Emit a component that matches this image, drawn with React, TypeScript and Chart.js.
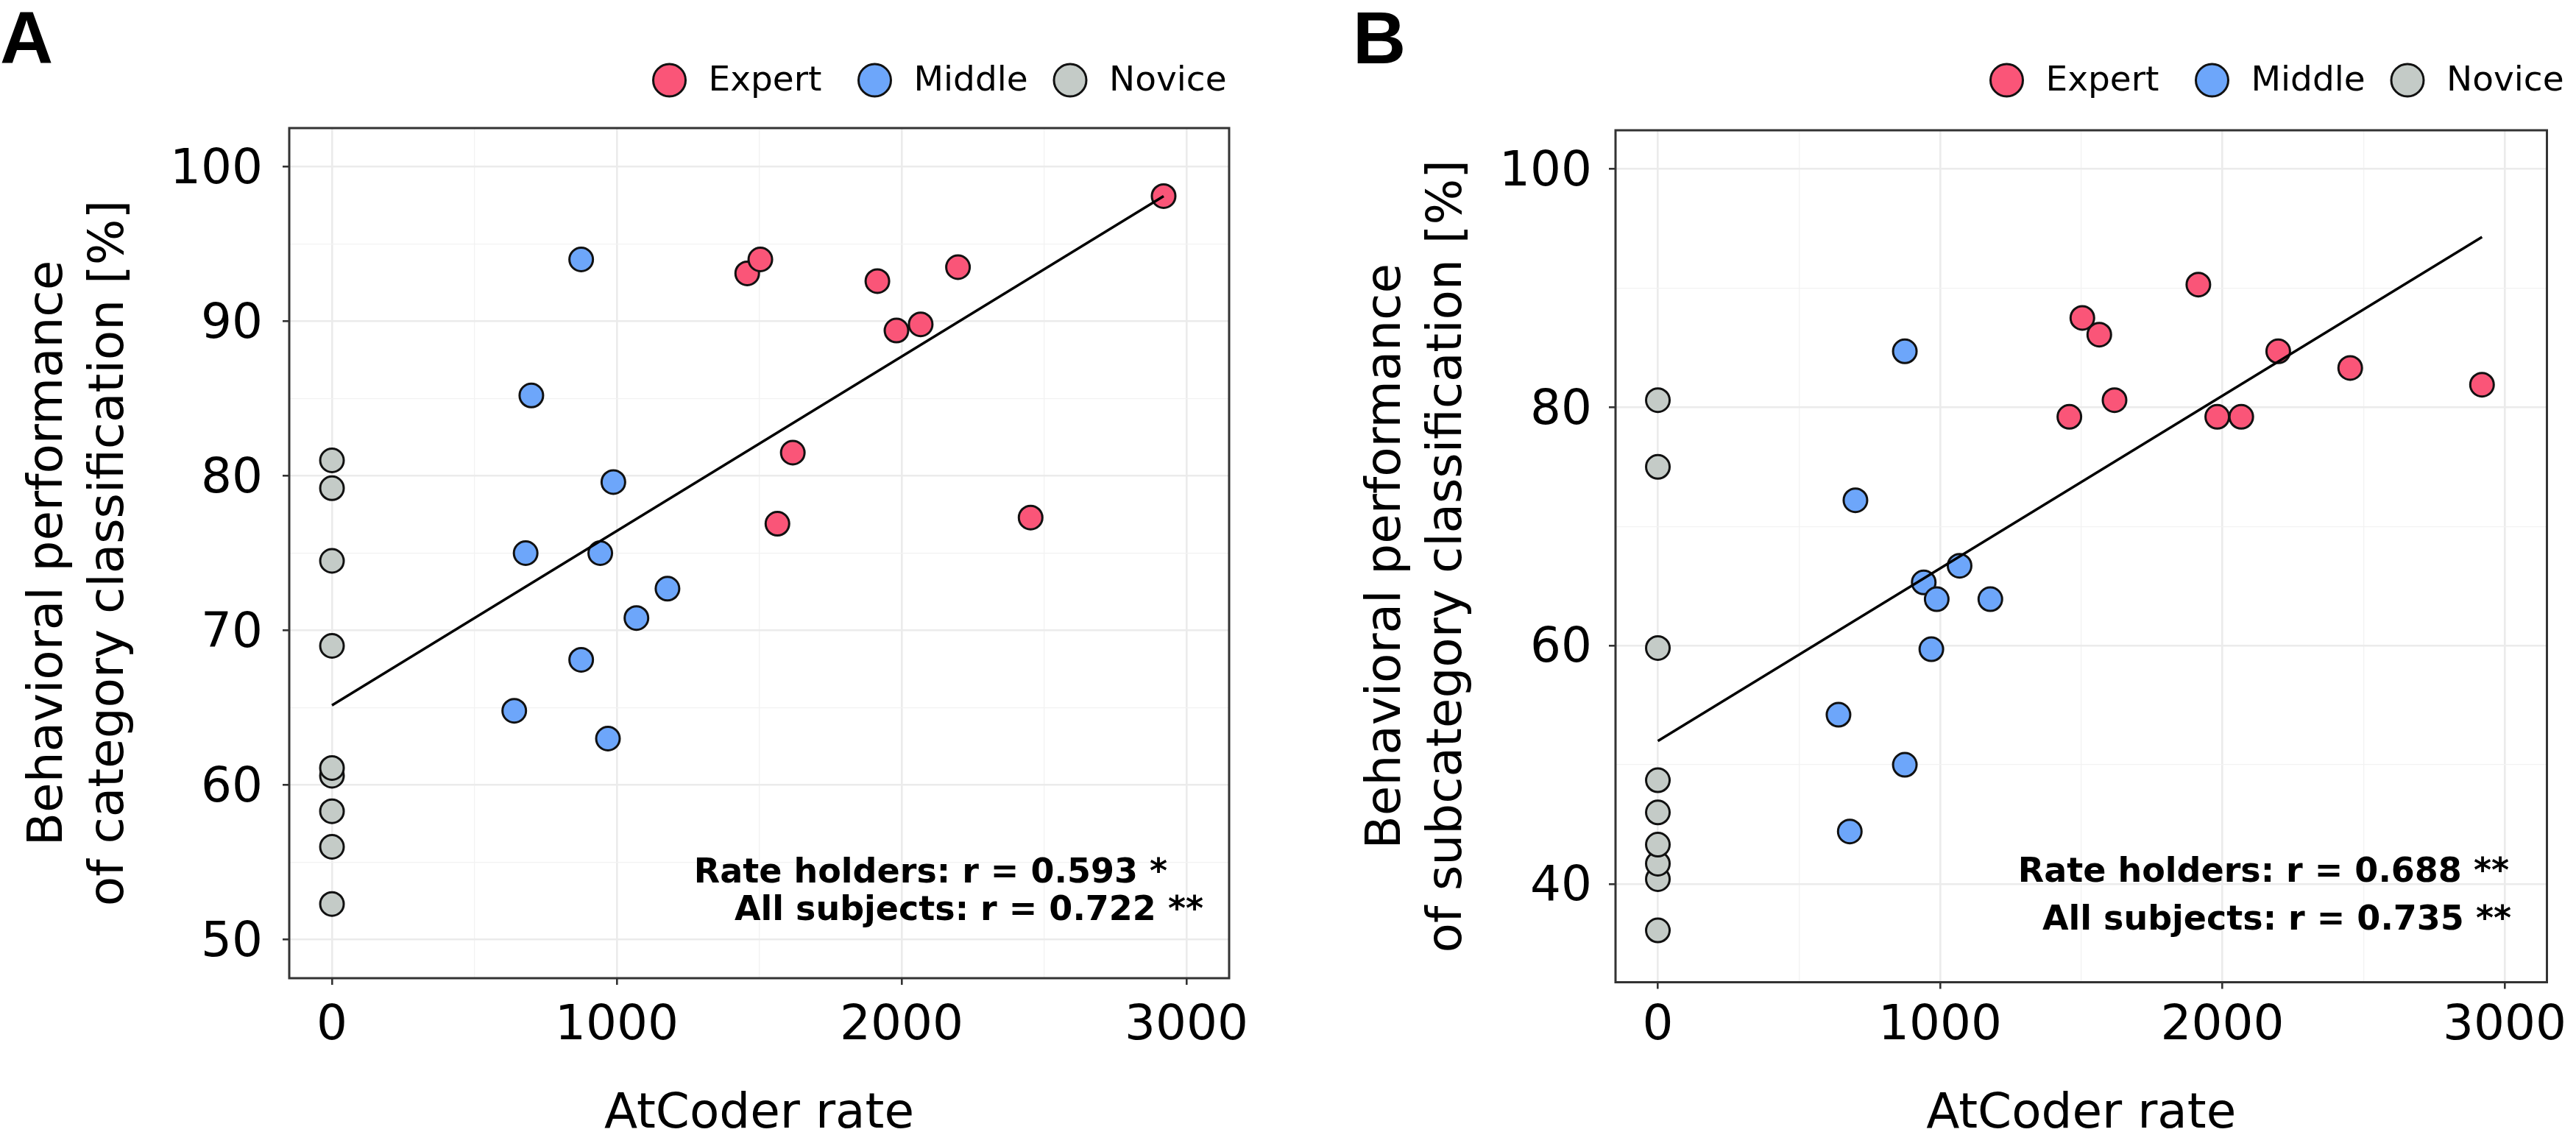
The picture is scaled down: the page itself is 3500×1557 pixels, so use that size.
import React, { useEffect, useRef } from 'react';
import { Chart, registerables } from 'chart.js';

Chart.register(...registerables);

// ---------- data ----------
const GROUPS = ['Expert', 'Middle', 'Novice'];
const GROUP_COLORS = ['#FA5578', '#6DA6FA', '#C4CBC7'];

const expertRate = [1458, 1504, 1564, 1618, 1915, 1982, 2067, 2198, 2453, 2920];
const expertCat = [93.1, 94.0, 76.9, 81.5, 92.6, 89.4, 89.8, 93.5, 77.3, 98.1];
const expertSub = [79.2, 87.5, 86.1, 80.6, 90.3, 79.2, 79.2, 84.7, 83.3, 81.9];

const middleRate = [640, 680, 700, 875, 875, 942, 969, 988, 1069, 1178];
const middleCat = [64.8, 75.0, 85.2, 94.0, 68.1, 75.0, 63.0, 79.6, 70.8, 72.7];
const middleSub = [54.2, 44.4, 72.2, 84.7, 50.0, 65.3, 59.7, 63.9, 66.7, 63.9];

const noviceRate = [0, 0, 0, 0, 0, 0, 0, 0, 0];
const noviceCat = [52.3, 56.0, 58.3, 60.6, 61.1, 69.0, 74.5, 79.2, 81.0];
const noviceSub = [36.1, 40.4, 41.7, 43.3, 46.0, 48.7, 59.8, 75.0, 80.6];

const fitRate = [0, 2920];
const fitCat = [65.15, 98.1];
const fitSub = [52.0, 94.3];

const xTicksMajor = [0, 1000, 2000, 3000];
const xTicksMinor = [500, 1500, 2500];
const yTicksMajorA = [50, 60, 70, 80, 90, 100];
const yTicksMinorA = [55, 65, 75, 85, 95];
const yTicksMajorB = [40, 60, 80, 100];
const yTicksMinorB = [50, 70, 90];

const statsA = ['Rate holders: r = 0.593 *', 'All subjects: r = 0.722 **'];
const statsB = ['Rate holders: r = 0.688 **', 'All subjects: r = 0.735 **'];

const yTitleA = ['Behavioral performance', 'of category classification [%]'];
const yTitleB = ['Behavioral performance', 'of subcategory classification [%]'];
const xTitle = 'AtCoder rate';

// ---------- layout per panel ----------
const panelA = {
  letter: 'A', letterX: 0, letterY: 86,
  yTitle: yTitleA,
  series: [expertCat, middleCat, noviceCat],
  fit: fitCat,
  yMin: 47.5, yMax: 102.5, yMajor: yTicksMajorA, yMinor: yTicksMinorA,
  padTop: 174, padRight: 80, yWidth: 393, xHeight: 228,
  yTickPad: 27, xTickPad: 17.6, yTitlePad: 26,
  legendCenters: [909.5, 1188.5, 1454],
  stats: statsA, statsRight: [1586, 1635], statsBaseline: [1199, 1250],
};

const panelB = {
  letter: 'B', letterX: 88, letterY: 86,
  yTitle: yTitleB,
  series: [expertSub, middleSub, noviceSub],
  fit: fitSub,
  yMin: 31.75, yMax: 103.25, yMajor: yTicksMajorB, yMinor: yTicksMinorB,
  padTop: 177, padRight: 23, yWidth: 445, xHeight: 222.5,
  yTickPad: 23, xTickPad: 12, yTitlePad: 94,
  legendCenters: [976.5, 1255.5, 1521],
  stats: statsB, statsRight: [1659, 1662], statsBaseline: [1198, 1263],
};

const FONT = "'DejaVu Sans', sans-serif";
const RATES = [expertRate, middleRate, noviceRate];

const decorPlugin = {
  id: 'panelDecor',
  afterDatasetsDraw(chart: any, _args: any, opts: any) {
    const { ctx, chartArea } = chart;
    const { left, top, right, bottom } = chartArea;
    ctx.save();
    ctx.strokeStyle = '#333333';
    ctx.lineWidth = 3;
    ctx.strokeRect(left, top, right - left, bottom - top);
    ctx.restore();
  },
  afterDraw(chart: any, _args: any, opts: any) {
    const ctx = chart.ctx;
    ctx.save();
    // panel letter
    ctx.fillStyle = '#000';
    ctx.textAlign = 'left';
    ctx.textBaseline = 'alphabetic';
    ctx.font = "bold 100px 'Liberation Sans', Arial, sans-serif";
    ctx.fillText(opts.letter, opts.letterX, opts.letterY);

    // legend
    let k = 0;
    chart.data.datasets.forEach((ds: any) => {
      if (!GROUPS.includes(ds.label)) return;
      const cx = opts.legendCenters[k];
      k++;
      ctx.beginPath();
      ctx.arc(cx, 109, 22, 0, Math.PI * 2);
      ctx.fillStyle = ds.backgroundColor;
      ctx.fill();
      ctx.lineWidth = 3;
      ctx.strokeStyle = '#111';
      ctx.stroke();
      ctx.fillStyle = '#000';
      ctx.font = `47px ${FONT}`;
      ctx.textAlign = 'left';
      ctx.textBaseline = 'alphabetic';
      ctx.fillText(ds.label, cx + 53, 123);
    });

    // correlation annotation
    ctx.font = `bold 46px ${FONT}`;
    ctx.textAlign = 'right';
    ctx.textBaseline = 'alphabetic';
    ctx.fillStyle = '#000';
    opts.stats.forEach((s: string, i: number) => {
      ctx.fillText(s, opts.statsRight[i], opts.statsBaseline[i]);
    });
    ctx.restore();
  },
};

function Panel({ cfg, left }: { cfg: any; left: number }) {
  const ref = useRef<HTMLCanvasElement>(null);
  useEffect(() => {
    if (!ref.current) return;
    const xAll = [...xTicksMajor, ...xTicksMinor].sort((a, b) => a - b);
    const yAll = [...cfg.yMajor, ...cfg.yMinor].sort((a: number, b: number) => a - b);
    const isXMajor = (v: any) => xTicksMajor.includes(v);
    const isYMajor = (v: any) => cfg.yMajor.includes(v);

    const datasets: any[] = [
      {
        type: 'line',
        label: '',
        data: fitRate.map((x, i) => ({ x, y: cfg.fit[i] })),
        borderColor: '#000',
        borderWidth: 3.5,
        pointRadius: 0,
        fill: false,
        order: 0,
      },
    ];
    GROUPS.forEach((g, gi) => {
      datasets.push({
        type: 'scatter',
        label: g,
        data: RATES[gi].map((x, i) => ({ x, y: cfg.series[gi][i] })),
        backgroundColor: GROUP_COLORS[gi],
        borderColor: '#111',
        borderWidth: 3,
        pointRadius: 16,
        pointHoverRadius: 16,
        order: gi + 1,
      });
    });

    const chart = new Chart(ref.current, {
      type: 'scatter',
      data: { datasets },
      plugins: [decorPlugin],
      options: {
        responsive: false,
        animation: false,
        events: [],
        layout: { padding: { left: 0, right: cfg.padRight, top: cfg.padTop, bottom: 0 } },
        plugins: {
          legend: { display: false },
          tooltip: { enabled: false },
          panelDecor: cfg,
        } as any,
        scales: {
          x: {
            type: 'linear',
            min: -150,
            max: 3150,
            afterBuildTicks: (s: any) => {
              s.ticks = xAll.map((v) => ({ value: v }));
            },
            afterFit: (s: any) => {
              s.height = cfg.xHeight;
            },
            border: { display: false },
            grid: {
              color: (c: any) => (isXMajor(c.tick?.value) ? '#EBEBEB' : '#F2F2F2'),
              lineWidth: (c: any) => (isXMajor(c.tick?.value) ? 2.6 : 1.3),
              tickColor: (c: any) => (isXMajor(c.tick?.value) ? '#333333' : 'rgba(0,0,0,0)'),
              tickLength: 9,
              tickWidth: 2.6,
              drawTicks: true,
            },
            ticks: {
              autoSkip: false,
              maxRotation: 0,
              minRotation: 0,
              padding: cfg.xTickPad,
              color: '#000',
              font: { family: FONT, size: 66, lineHeight: 1.2 },
              callback: (v: any) => (isXMajor(v) ? String(v) : ''),
            },
            title: {
              display: true,
              text: xTitle,
              color: '#000',
              font: { family: FONT, size: 66, lineHeight: 1.2 },
              padding: { top: 0, bottom: 3 },
            },
          },
          y: {
            type: 'linear',
            min: cfg.yMin,
            max: cfg.yMax,
            afterBuildTicks: (s: any) => {
              s.ticks = yAll.map((v: number) => ({ value: v }));
            },
            afterFit: (s: any) => {
              s.width = cfg.yWidth;
            },
            border: { display: false },
            grid: {
              color: (c: any) => (isYMajor(c.tick?.value) ? '#EBEBEB' : '#F2F2F2'),
              lineWidth: (c: any) => (isYMajor(c.tick?.value) ? 2.6 : 1.3),
              tickColor: (c: any) => (isYMajor(c.tick?.value) ? '#333333' : 'rgba(0,0,0,0)'),
              tickLength: 9,
              tickWidth: 2.6,
              drawTicks: true,
            },
            ticks: {
              autoSkip: false,
              padding: cfg.yTickPad,
              labelOffset: 5,
              color: '#000',
              font: { family: FONT, size: 66, lineHeight: 1.2 },
              callback: (v: any) => (isYMajor(v) ? String(v) : ''),
            },
            title: {
              display: true,
              text: cfg.yTitle,
              color: '#000',
              font: { family: FONT, size: 66, lineHeight: 1.25 },
              padding: { top: cfg.yTitlePad, bottom: 0 },
            },
          },
        },
      } as any,
    });
    return () => chart.destroy();
  }, []);
  return (
    <canvas
      ref={ref}
      width={1750}
      height={1557}
      style={{ position: 'absolute', left, top: 0, width: 1750, height: 1557, display: 'block' }}
    />
  );
}

export default function App() {
  return (
    <div style={{ position: 'absolute', left: 0, top: 0, width: 3500, height: 1557, background: '#fff', overflow: 'hidden' }}>
      <Panel cfg={panelA} left={0} />
      <Panel cfg={panelB} left={1750} />
    </div>
  );
}
